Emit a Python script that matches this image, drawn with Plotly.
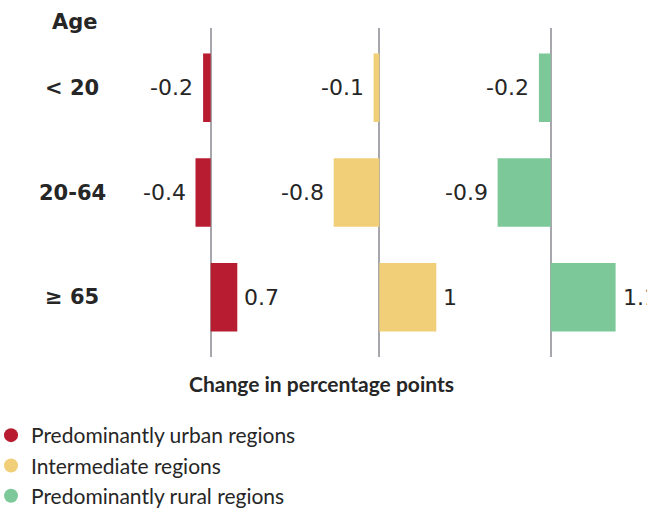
import plotly.graph_objects as go

# Change in population share by age group, in percentage points
age_groups = ["< 20", "20-64", "≥ 65"]
region_types = [
    "Predominantly urban regions",
    "Intermediate regions",
    "Predominantly rural regions",
]
urban = [-0.2, -0.4, 0.7]
intermediate = [-0.1, -0.8, 1.0]
rural = [-0.2, -0.9, 1.1]
series = [urban, intermediate, rural]
colors = ["#B81C30", "#F1CF78", "#7DC899"]

W, H = 647, 516
TEXT = "#262626"
WORD_FONT = "Lato, Open Sans, sans-serif"
NUM_FONT = "DejaVu Sans, sans-serif"

# panel layout in pixels: (left, right, zero position, px per unit)
panels = [(120, 292, 210.7, 38.0), (292, 462, 379.3, 57.0), (462, 647, 550.7, 59.0)]

fig = go.Figure()
for k, (vals, col, name) in enumerate(zip(series, colors, region_types)):
    ax = "x" if k == 0 else f"x{k + 1}"
    fig.add_trace(go.Bar(
        x=vals, y=age_groups, orientation="h", width=0.654,
        marker=dict(color=col, line=dict(width=0)),
        xaxis=ax, yaxis="y", showlegend=False, cliponaxis=False,
    ))
    # legend entry with a round marker
    fig.add_trace(go.Scatter(
        x=[None], y=[None], mode="markers", name=name,
        marker=dict(color=col, size=14, symbol="circle"),
        xaxis=ax, yaxis="y", showlegend=True,
    ))
    # value labels next to each bar
    for cat, v in zip(age_groups, vals):
        fig.add_annotation(
            x=v, y=cat, xref=ax, yref="y", text=f"{v:g}", showarrow=False,
            xanchor="right" if v < 0 else "left", xshift=-8 if v < 0 else 5,
            font=dict(family=NUM_FONT, size=22, color=TEXT),
        )

for k, (l, r, z, s) in enumerate(panels):
    key = "xaxis" if k == 0 else f"xaxis{k + 1}"
    fig.layout[key] = dict(
        domain=[l / W, r / W], range=[(l - z) / s, (r - z) / s],
        anchor="y", showgrid=False, showticklabels=False, ticks="",
        zeroline=True, zerolinecolor="#A6A6AC", zerolinewidth=2,
        showline=False, fixedrange=True, layer="above traces",
    )

fig.update_layout(
    yaxis=dict(
        domain=[1 - 357 / H, 1 - 28 / H], range=[2.57, -0.57],
        type="category", categoryorder="array", categoryarray=age_groups,
        showticklabels=False, showgrid=False, zeroline=False, ticks="",
    ),
)

# age group row labels and header
for cat in age_groups:
    fig.add_annotation(
        x=72 / W, y=cat, xref="paper", yref="y", text=cat, showarrow=False,
        xanchor="center", font=dict(family=NUM_FONT, size=21, color=TEXT, weight="bold"),
    )
fig.add_annotation(
    x=74.5 / W, y=1 - 22 / H, xref="paper", yref="paper", text="Age",
    showarrow=False, xanchor="center", yanchor="middle",
    font=dict(family=NUM_FONT, size=21, color=TEXT, weight="bold"),
)
fig.add_annotation(
    x=321.7 / W, y=1 - 383 / H, xref="paper", yref="paper",
    text="Change in percentage points", showarrow=False,
    xanchor="center", yanchor="middle",
    font=dict(family=WORD_FONT, size=21, color=TEXT, weight="bold"),
)

fig.update_layout(
    width=W, height=H, margin=dict(l=0, r=0, t=0, b=0, autoexpand=False),
    paper_bgcolor="white", plot_bgcolor="white",
    barmode="overlay",
    legend=dict(
        x=-9 / W, y=1 - 415 / H, xanchor="left", yanchor="top",
        font=dict(family=WORD_FONT, size=21, color=TEXT),
        bgcolor="rgba(0,0,0,0)", itemwidth=30,
    ),
)

fig.write_html("out.html")
